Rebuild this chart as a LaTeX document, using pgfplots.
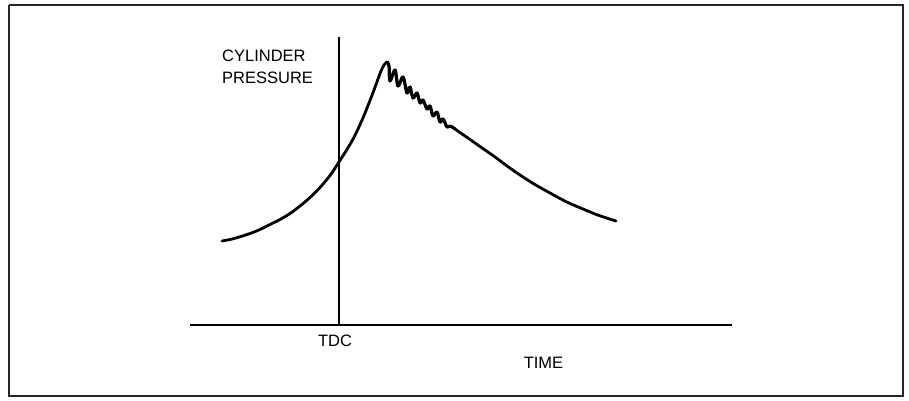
\documentclass[border=0pt]{standalone}
\usepackage{pgfplots}
\pgfplotsset{compat=1.18}
\usepackage{fontspec}
\setmainfont{Liberation Sans}
\newcommand{\lbl}{\fontsize{16.5}{19}\selectfont}

\begin{document}
\begin{tikzpicture}
\begin{axis}[
  scale only axis, width=909pt, height=400pt,
  xmin=0, xmax=909, ymin=0, ymax=400, y dir=reverse,
  hide axis, clip=false,
]
% page extent and frame
\addplot[draw=none] coordinates {(0,0) (909,400)};
\addplot[line width=1.6pt, black!85] coordinates {(9,5) (903,5) (903,396) (9,396) (9,5)};

% time axis and TDC line
\addplot[line width=2pt] coordinates {(190,325) (732,325)};
\addplot[line width=1.4pt] coordinates {(339,37) (339,325)};

% cylinder pressure trace: compression rise
\addplot[line width=2.8pt, smooth, line cap=round] coordinates {
  (222,241) (230,239.5) (240,236.8) (250,233.5) (260,229.5) (270,224.5)
  (280,219.5) (290,213.5) (300,206) (310,197.5) (320,187.5) (330,175.5)
  (338,163.5) (345,152.5) (352,141) (358,129) (364,115.5) (369,103)
  (374,90) (378,79) (381,71) (384,65) (387,62)
};
% knock oscillations
\addplot[line width=3.2pt, smooth, tension=0.6, line cap=round, line join=round] coordinates {
  (387,62) (389,66)
  (390,81) (395,70) (398,86) (403,77) (407,93) (410,87) (413,98) (417,93)
  (420,103) (423,100) (427,109) (430,106) (433,116) (437,112) (440,122)
  (443,119) (447,127) (450,126) (455,129)
};
% expansion
\addplot[line width=2.8pt, smooth, line cap=round] coordinates {
  (455,129) (465,136) (475,143) (485,150) (495,157) (505,164.5) (517,173)
  (530,181.5) (540,187.5) (550,193) (560,198.5) (570,203.5) (583,209)
  (595,214) (605,217.5) (616,221)
};

\node[anchor=west, inner sep=0pt, font=\lbl] at (axis cs:222,55.5) {CYLINDER};
\node[anchor=west, inner sep=0pt, font=\lbl] at (axis cs:222,77.5) {PRESSURE};
\node[inner sep=0pt, font=\lbl] at (axis cs:335,340.5) {TDC};
\node[inner sep=0pt, font=\lbl] at (axis cs:543.5,362.5) {TIME};
\end{axis}
\end{tikzpicture}
\end{document}
